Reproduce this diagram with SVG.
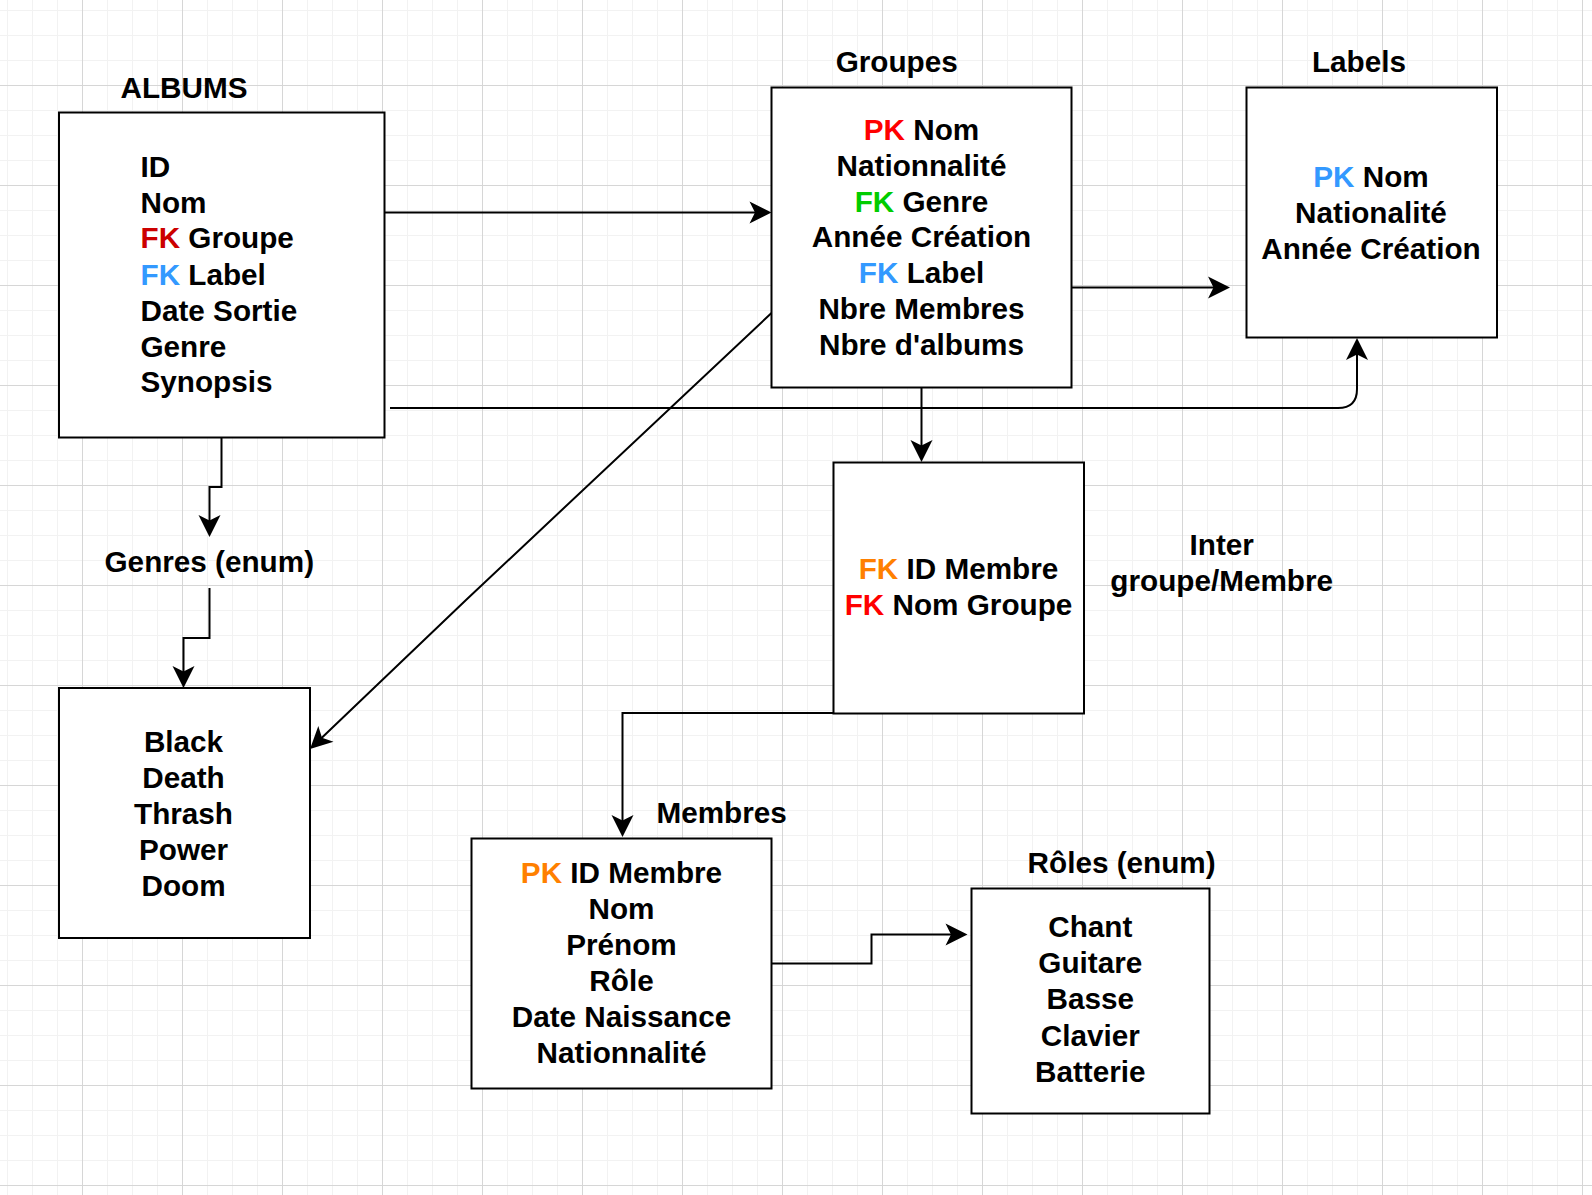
<svg xmlns="http://www.w3.org/2000/svg" width="1592" height="1195" viewBox="0 0 1592 1195">
<style>
text{font-family:"Liberation Sans",Arial,sans-serif;font-weight:bold;font-size:29.7px;fill:#000}
.c{text-anchor:middle}
.box{fill:#fff;stroke:#000;stroke-width:2}
.conn path{fill:none;stroke:#000;stroke-width:2;marker-end:url(#arr)}
.red{fill:#FF0000}.dred{fill:#CC0000}.blue{fill:#3399FF}.green{fill:#00CC00}.orange{fill:#FF8000}
</style>
<defs>
<pattern id="minor" patternUnits="userSpaceOnUse" x="82" y="85" width="25" height="25">
<path d="M0.5,0V25M0,0.5H25" stroke="#f2f2f2" stroke-width="1" fill="none"/>
</pattern>
<pattern id="major" patternUnits="userSpaceOnUse" x="82" y="85" width="100" height="100">
<path d="M0.5,0V100M0,0.5H100" stroke="#d6d6d6" stroke-width="1" fill="none"/>
</pattern>
<marker id="arr" markerUnits="userSpaceOnUse" viewBox="-20 -15 40 30" markerWidth="40" markerHeight="30" refX="0" refY="0" orient="auto" overflow="visible">
<path d="M8,0L-14,-11L-8.5,0L-14,11Z" fill="#000"/>
</marker>
</defs>
<rect width="1592" height="1195" fill="#fff"/>
<rect width="1592" height="1195" fill="url(#minor)"/>
<rect width="1592" height="1195" fill="url(#major)"/>

<g id="connectors" class="conn">
<path d="M384.5,212.5H763.5"/>
<path d="M1071.5,287.5H1222"/>
<path d="M390,408H1338Q1357,408 1357,389V346"/>
<path d="M921.5,387.5V454"/>
<path d="M221.5,437V487H209.5V529"/>
<path d="M209.5,588V638H183.5V680"/>
<path d="M771.5,313L466,600L315.8,743.5"/>
<path d="M833.5,713H622.5V829"/>
<path d="M771.5,963.5H871.5V934.5H959.5"/>
</g>

<g id="albums">
<text x="120.5" y="97.7">ALBUMS</text>
<rect class="box" x="59" y="112.5" width="325.5" height="325"/>
<text x="140.5" y="176.7">ID</text>
<text x="140.5" y="212.7">Nom</text>
<text x="140.5" y="248.3"><tspan class="dred">FK</tspan> Groupe</text>
<text x="140.5" y="284.5"><tspan class="blue">FK</tspan> Label</text>
<text x="140.5" y="320.5">Date Sortie</text>
<text x="140.5" y="356.5">Genre</text>
<text x="140.5" y="392">Synopsis</text>
</g>

<g id="groupes">
<text class="c" x="896.7" y="72.3">Groupes</text>
<rect class="box" x="771.5" y="87.5" width="300" height="300"/>
<text class="c" x="921.5" y="140"><tspan class="red">PK</tspan> Nom</text>
<text class="c" x="921.5" y="175.5">Nationnalité</text>
<text class="c" x="921.5" y="211.5"><tspan class="green">FK</tspan> Genre</text>
<text class="c" x="921.5" y="247">Année Création</text>
<text class="c" x="921.5" y="283"><tspan class="blue">FK</tspan> Label</text>
<text class="c" x="921.5" y="318.5">Nbre Membres</text>
<text class="c" x="921.5" y="354.5">Nbre d'albums</text>
</g>

<g id="labels">
<text class="c" x="1359" y="72.3">Labels</text>
<rect class="box" x="1246.5" y="87.5" width="250.5" height="250"/>
<text class="c" x="1371" y="186.7"><tspan class="blue">PK</tspan> Nom</text>
<text class="c" x="1371" y="222.7">Nationalité</text>
<text class="c" x="1371" y="258.7">Année Création</text>
</g>

<g id="genres-enum">
<text class="c" x="209.3" y="572.2">Genres (enum)</text>
</g>

<g id="genres">
<rect class="box" x="59" y="688" width="251" height="250"/>
<text class="c" x="183.5" y="751.6">Black</text>
<text class="c" x="183.5" y="787.6">Death</text>
<text class="c" x="183.5" y="823.6">Thrash</text>
<text class="c" x="183.5" y="859.8">Power</text>
<text class="c" x="183.5" y="895.8">Doom</text>
</g>

<g id="inter">
<rect class="box" x="833.5" y="462.5" width="250.5" height="251"/>
<text class="c" x="958.5" y="578.8"><tspan class="orange">FK</tspan> ID Membre</text>
<text class="c" x="958.5" y="615"><tspan class="red">FK</tspan> Nom Groupe</text>
<text class="c" x="1221.7" y="555">Inter</text>
<text class="c" x="1221.7" y="591">groupe/Membre</text>
</g>

<g id="membres">
<text class="c" x="721.6" y="823.3">Membres</text>
<rect class="box" x="471.5" y="838.5" width="300" height="250"/>
<text class="c" x="621.5" y="883.3"><tspan class="orange">PK</tspan> ID Membre</text>
<text class="c" x="621.5" y="919.3">Nom</text>
<text class="c" x="621.5" y="955">Prénom</text>
<text class="c" x="621.5" y="991">Rôle</text>
<text class="c" x="621.5" y="1026.7">Date Naissance</text>
<text class="c" x="621.5" y="1062.7">Nationnalité</text>
</g>

<g id="roles">
<text class="c" x="1121.6" y="872.7">Rôles (enum)</text>
<rect class="box" x="971.5" y="888.5" width="238" height="225"/>
<text class="c" x="1090.3" y="937.3">Chant</text>
<text class="c" x="1090.3" y="973.3">Guitare</text>
<text class="c" x="1090.3" y="1009.3">Basse</text>
<text class="c" x="1090.3" y="1045.5">Clavier</text>
<text class="c" x="1090.3" y="1081.5">Batterie</text>
</g>
</svg>
